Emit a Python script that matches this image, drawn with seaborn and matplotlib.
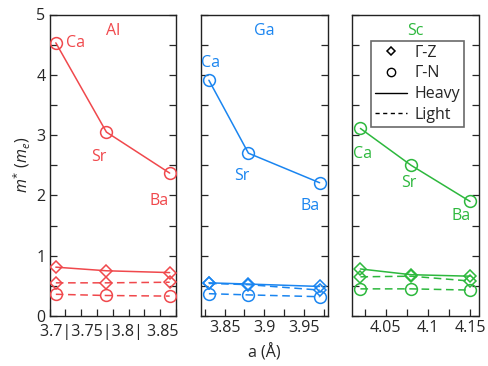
import numpy as np
import pandas as pd
import seaborn as sns
import matplotlib
matplotlib.use("Agg")
import matplotlib.pyplot as plt
from matplotlib.lines import Line2D
from matplotlib.ticker import MultipleLocator

# ---------------- data ----------------
elements = ["Ca", "Sr", "Ba"]
panels = ["Al", "Ga", "Sc"]
colors = {"Al": "#f0484c", "Ga": "#1a85f0", "Sc": "#2db83d"}

a_Al = [3.71, 3.79, 3.89]
a_Ga = [3.83, 3.88, 3.97]
a_Sc = [4.02, 4.08, 4.15]

# Gamma-N heavy / light, Gamma-Z heavy / light
Al_GN_heavy = [4.53, 3.05, 2.37]
Al_GN_light = [0.36, 0.34, 0.33]
Al_GZ_heavy = [0.81, 0.75, 0.72]
Al_GZ_light = [0.55, 0.55, 0.56]

Ga_GN_heavy = [3.91, 2.70, 2.21]
Ga_GN_light = [0.37, 0.35, 0.32]
Ga_GZ_heavy = [0.55, 0.53, 0.49]
Ga_GZ_light = [0.54, 0.52, 0.43]

Sc_GN_heavy = [3.11, 2.50, 1.90]
Sc_GN_light = [0.45, 0.45, 0.43]
Sc_GZ_heavy = [0.78, 0.685, 0.66]
Sc_GZ_light = [0.65, 0.66, 0.58]

xlims = {"Al": (3.70, 3.90), "Ga": (3.82, 3.98), "Sc": (4.01, 4.16)}
xticks = {"Al": [3.70, 3.75, 3.80, 3.85],
          "Ga": [3.85, 3.90, 3.95],
          "Sc": [4.05, 4.10, 4.15]}
xticklabels = {"Al": ["3.7", "3.75", "3.8", "3.85"],
               "Ga": ["3.85", "3.9", "3.95"],
               "Sc": ["4.05", "4.1", "4.15"]}

# label offsets (pixels) for element names relative to heavy Gamma-N point
label_offsets = {
    "Al": [(20, 0), (-8, -25), (-11, -28)],
    "Ga": [(2, 17), (-7, -23), (-10, -23)],
    "Sc": [(2, -26), (-2, -18), (-9, -15)],
}

a_vals = {"Al": a_Al, "Ga": a_Ga, "Sc": a_Sc}
series = {
    "Al": {("Γ-N", "Heavy"): Al_GN_heavy, ("Γ-N", "Light"): Al_GN_light,
           ("Γ-Z", "Heavy"): Al_GZ_heavy, ("Γ-Z", "Light"): Al_GZ_light},
    "Ga": {("Γ-N", "Heavy"): Ga_GN_heavy, ("Γ-N", "Light"): Ga_GN_light,
           ("Γ-Z", "Heavy"): Ga_GZ_heavy, ("Γ-Z", "Light"): Ga_GZ_light},
    "Sc": {("Γ-N", "Heavy"): Sc_GN_heavy, ("Γ-N", "Light"): Sc_GN_light,
           ("Γ-Z", "Heavy"): Sc_GZ_heavy, ("Γ-Z", "Light"): Sc_GZ_light},
}

rows = []
for p in panels:
    for (path, band), vals in series[p].items():
        for el, a, m in zip(elements, a_vals[p], vals):
            rows.append(dict(panel=p, element=el, a=a, path=path, band=band, m=m))
df = pd.DataFrame(rows)

# ---------------- style ----------------
sns.set_style("ticks")
plt.rcParams["font.family"] = ["Open Sans", "DejaVu Sans"]
plt.rcParams["mathtext.fontset"] = "custom"
plt.rcParams["mathtext.rm"] = "Open Sans"
plt.rcParams["mathtext.it"] = "Open Sans:italic"

fig = plt.figure(figsize=(4.88, 3.66), dpi=100)
W, H = 488, 366
lefts = [49.5, 201, 352]
axw = 126.5
top, bottom = 14.5, 316

markers = {"Γ-N": "o", "Γ-Z": "D"}
msizes = {"Γ-N": 8.5, "Γ-Z": 6.5}
lstyles = {"Heavy": "-", "Light": (0, (5, 3))}

FS = 11.5
for i, p in enumerate(panels):
    ax = fig.add_axes([lefts[i] / W, (H - bottom) / H, axw / W, (bottom - top) / H])
    c = colors[p]
    sub = df[df.panel == p]
    for (path, band), g in sub.groupby(["path", "band"]):
        sns.lineplot(data=g, x="a", y="m", ax=ax, color=c, sort=False,
                     marker=markers[path], markersize=msizes[path],
                     markerfacecolor="none", markeredgecolor=c, markeredgewidth=1.1,
                     linestyle=lstyles[band], linewidth=1.1, zorder=3)
    ax.set_xlim(*xlims[p])
    ax.set_ylim(0, 5)
    ax.set_xticks(xticks[p])
    if p == "Al":
        # the reference prints this panel's tick labels as one crowded run
        ax.set_xticklabels([""] * len(xticks[p]))
        ax.text((40 - lefts[0]) / axw, -0.028, "3.7|" + "|".join(xticklabels[p][1:3]) + "| " + xticklabels[p][3],
                transform=ax.transAxes, ha="left", va="top", fontsize=FS)
    else:
        ax.set_xticklabels(xticklabels[p], fontsize=FS)
    ax.xaxis.set_minor_locator(MultipleLocator(0.025))
    ax.yaxis.set_major_locator(MultipleLocator(1))
    ax.yaxis.set_minor_locator(MultipleLocator(0.5))
    ax.tick_params(axis="both", which="both", direction="in", length=5, width=0.9,
                   right=True, top=False, labelsize=FS, pad=3)
    if i > 0:
        ax.set_yticklabels([])
    ax.set_xlabel("")
    ax.set_ylabel("")
    for s in ax.spines.values():
        s.set_linewidth(1.0)
        s.set_color("#222222")
    ax.text(0.5, 0.945, p, transform=ax.transAxes, ha="center", va="center",
            color=c, fontsize=FS)
    heavy = sub[(sub.path == "Γ-N") & (sub.band == "Heavy")]
    for (el, a, m), off in zip(heavy[["element", "a", "m"]].values, label_offsets[p]):
        ax.annotate(el, (a, m), xytext=off, textcoords="offset pixels",
                    ha="center", va="center", color=c, fontsize=FS)
    if p == "Sc":
        handles = [
            Line2D([], [], color="k", marker="D", markersize=4.5, markerfacecolor="none",
                   linestyle="none", markeredgewidth=1.1),
            Line2D([], [], color="k", marker="o", markersize=6, markerfacecolor="none",
                   linestyle="none", markeredgewidth=1.0),
            Line2D([], [], color="k", linestyle="-", linewidth=1.0),
            Line2D([], [], color="k", linestyle=(0, (3, 2.5)), linewidth=1.0),
        ]
        leg = ax.legend(handles, ["Γ-Z", "Γ-N", "Heavy", "Light"], loc="upper right",
                        bbox_to_anchor=((464.3 - 352) / axw, (316 - 40.7) / (bottom - top)),
                        borderaxespad=0, fontsize=FS, frameon=True, fancybox=False,
                        handlelength=2.0, handletextpad=0.5, labelspacing=0.3,
                        borderpad=0.25)
        leg.get_frame().set_edgecolor("#444444")
        leg.get_frame().set_linewidth(1.2)

fig.text(22 / W, 1 - 165 / H, r"$m^{*}$ ($m_e$)", rotation=90, ha="center",
         va="center", fontsize=FS)
fig.text(264 / W, 1 - 353 / H, "a (Å)", ha="center", va="center", fontsize=FS)

fig.savefig("out.png", dpi=100)
